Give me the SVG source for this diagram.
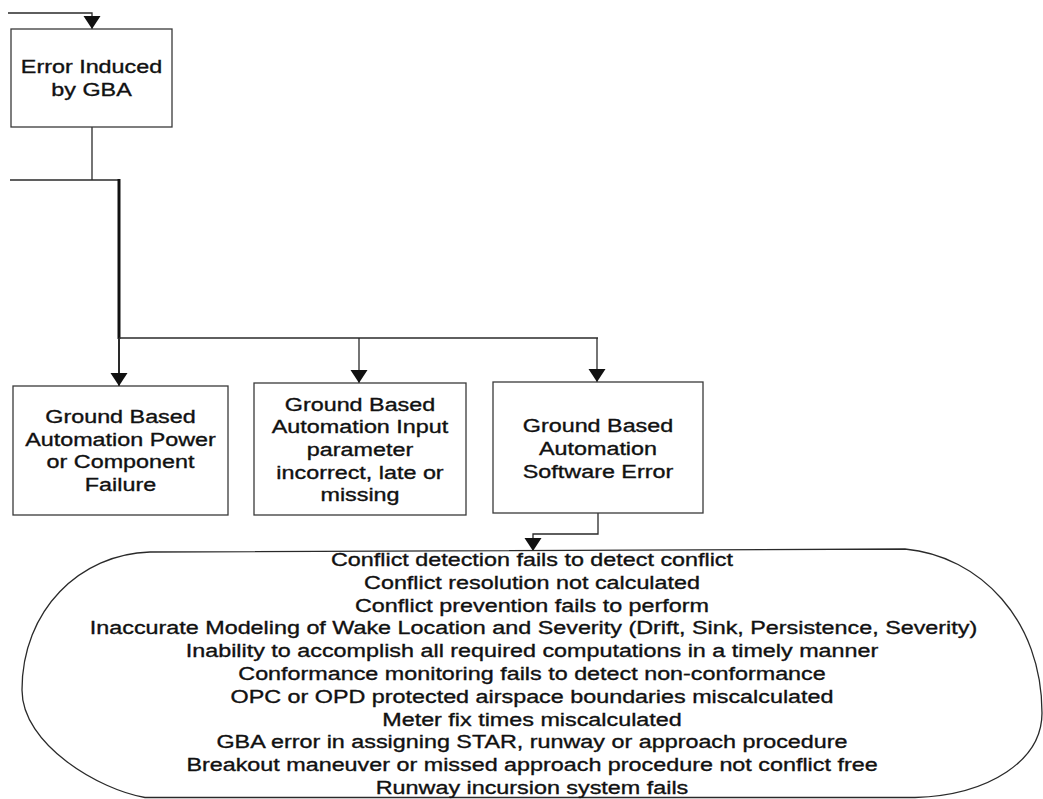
<svg xmlns="http://www.w3.org/2000/svg" width="1043" height="799" viewBox="0 0 1043 799">
<defs>
<style>
.box{fill:#fff;stroke:#3a3a3a;stroke-width:1.3}
.ln{fill:none;stroke:#2a2a2a;stroke-width:1.3}
.thick{fill:none;stroke:#111;stroke-width:3}
.t{font-family:"Liberation Sans",Arial,Helvetica,sans-serif;font-size:18.6px;fill:#111;stroke:#111;stroke-width:0.35;text-anchor:middle}
</style>
<marker id="ah" markerUnits="userSpaceOnUse" markerWidth="18" markerHeight="18" refX="13" refY="8.5" orient="auto">
<path d="M0,0 L13,8.5 L0,17 Z" fill="#111"/>
</marker>
</defs>
<rect width="1043" height="799" fill="#fff"/>

<g id="connectors">
<polyline class="ln" points="8,13 92,13 92,29" marker-end="url(#ah)"/>
<polyline class="ln" points="92,127 92,180"/>
<polyline class="ln" points="10,180 119,180"/>
<line class="thick" x1="119" y1="179" x2="119" y2="339"/>
<polyline class="ln" points="119,338 598,338"/>
<line class="ln" x1="119" y1="338" x2="119" y2="386" style="stroke-width:2" marker-end="url(#ah)"/>
<line class="ln" x1="359" y1="338" x2="359" y2="383" marker-end="url(#ah)"/>
<line class="ln" x1="597" y1="338" x2="597" y2="382" marker-end="url(#ah)"/>
<polyline class="ln" points="598,513 598,534 533,534 533,551" marker-end="url(#ah)"/>
</g>

<g id="n_error">
<rect class="box" x="11" y="29" width="161" height="98"/>
<text class="t" transform="translate(91.5,72.7) scale(1.255,1)">Error Induced</text>
<text class="t" transform="translate(91.5,96) scale(1.255,1)">by GBA</text>
</g>

<g id="n_power">
<rect class="box" x="13" y="386" width="215" height="129"/>
<text class="t" transform="translate(120.5,423) scale(1.255,1)">Ground Based</text>
<text class="t" transform="translate(120.5,445.7) scale(1.255,1)">Automation Power</text>
<text class="t" transform="translate(120.5,468.4) scale(1.255,1)">or Component</text>
<text class="t" transform="translate(120.5,491) scale(1.255,1)">Failure</text>
</g>

<g id="n_input">
<rect class="box" x="254" y="383" width="212" height="132"/>
<text class="t" transform="translate(360,410.6) scale(1.255,1)">Ground Based</text>
<text class="t" transform="translate(360,433.3) scale(1.255,1)">Automation Input</text>
<text class="t" transform="translate(360,456) scale(1.255,1)">parameter</text>
<text class="t" transform="translate(360,478.7) scale(1.255,1)">incorrect, late or</text>
<text class="t" transform="translate(360,501.4) scale(1.255,1)">missing</text>
</g>

<g id="n_software">
<rect class="box" x="493" y="382" width="210" height="131"/>
<text class="t" transform="translate(598,432) scale(1.255,1)">Ground Based</text>
<text class="t" transform="translate(598,455) scale(1.255,1)">Automation</text>
<text class="t" transform="translate(598,478) scale(1.255,1)">Software Error</text>
</g>

<g id="n_list">
<path class="ln" d="M150,552 L905,549 C980,556 1042,620 1042,713 C1042,760 990,795 915,797.5 L145,797.5 C100,790 22,745 22,690 C22,610 80,554 150,552 Z" fill="none"/>
<text class="t" transform="translate(532,566) scale(1.255,1)">Conflict detection fails to detect conflict</text>
<text class="t" transform="translate(532,588.8) scale(1.255,1)">Conflict resolution not calculated</text>
<text class="t" transform="translate(532,611.6) scale(1.255,1)">Conflict prevention fails to perform</text>
<text class="t" transform="translate(533.5,634.4) scale(1.255,1)">Inaccurate Modeling of Wake Location and Severity (Drift, Sink, Persistence, Severity)</text>
<text class="t" transform="translate(532,657.2) scale(1.255,1)">Inability to accomplish all required computations in a timely manner</text>
<text class="t" transform="translate(532,680) scale(1.255,1)">Conformance monitoring fails to detect non-conformance</text>
<text class="t" transform="translate(532,702.8) scale(1.255,1)">OPC or OPD protected airspace boundaries miscalculated</text>
<text class="t" transform="translate(532,725.6) scale(1.255,1)">Meter fix times miscalculated</text>
<text class="t" transform="translate(532,748.4) scale(1.255,1)">GBA error in assigning STAR, runway or approach procedure</text>
<text class="t" transform="translate(532,771.2) scale(1.255,1)">Breakout maneuver or missed approach procedure not conflict free</text>
<text class="t" transform="translate(532,794) scale(1.255,1)">Runway incursion system fails</text>
</g>
</svg>
